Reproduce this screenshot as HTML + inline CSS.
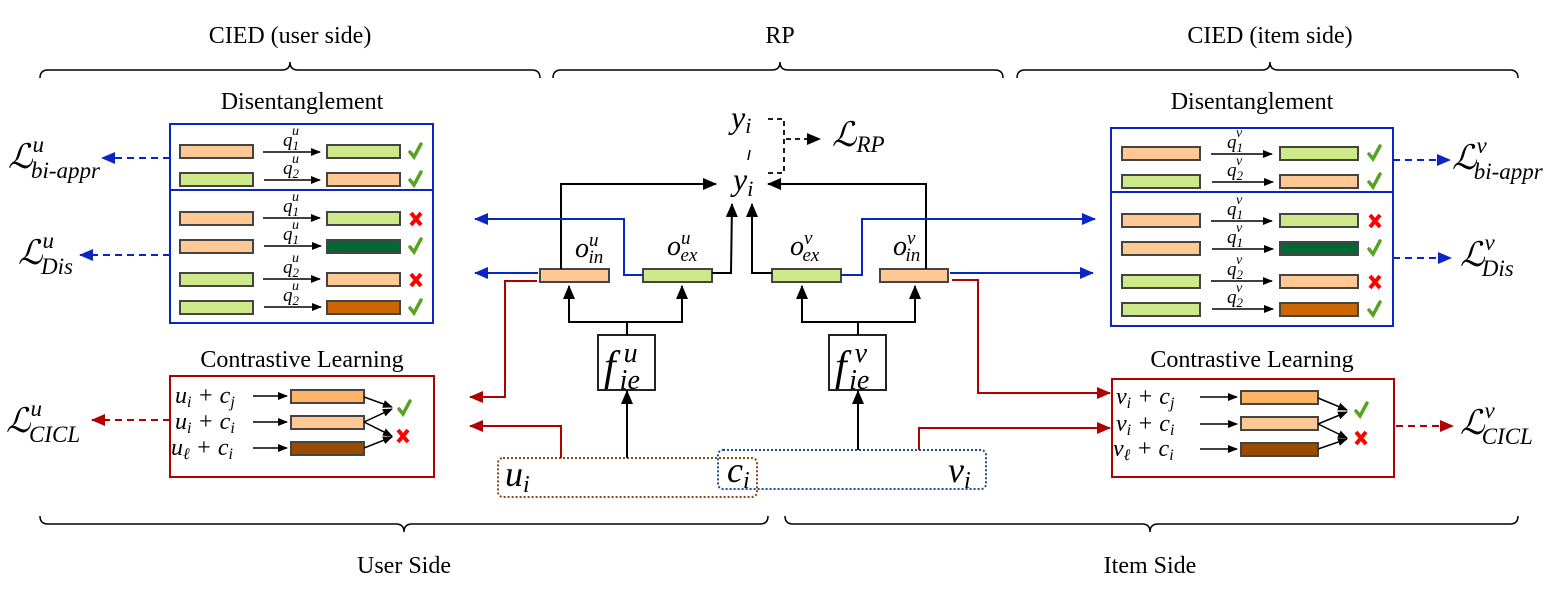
<!DOCTYPE html>
<html><head><meta charset="utf-8"><style>
html,body{margin:0;padding:0;background:#fff}
svg{display:block}
.t{font-family:"Liberation Serif",serif;fill:#000}
.m{font-family:"Liberation Serif",serif;font-style:italic;fill:#000}
</style></head><body>
<svg width="1560" height="591" viewBox="0 0 1560 591" xmlns="http://www.w3.org/2000/svg">
<defs>
<marker id="ak" markerWidth="10" markerHeight="8" refX="9" refY="4" orient="auto" markerUnits="userSpaceOnUse"><path d="M0,0 L10,4 L0,8z" fill="#000"/></marker>
<marker id="ak2" markerWidth="14" markerHeight="12" refX="13" refY="6" orient="auto" markerUnits="userSpaceOnUse"><path d="M0,0 L14,6 L0,12z" fill="#000"/></marker>
<marker id="ab" markerWidth="14" markerHeight="12" refX="13" refY="6" orient="auto" markerUnits="userSpaceOnUse"><path d="M0,0 L14,6 L0,12z" fill="#0b25c4"/></marker>
<marker id="ar" markerWidth="14" markerHeight="12" refX="13" refY="6" orient="auto" markerUnits="userSpaceOnUse"><path d="M0,0 L14,6 L0,12z" fill="#b00000"/></marker>
<g id="ck"><path d="M-5,1 L-1,6 L6,-7" fill="none" stroke="#5aa322" stroke-width="3.5" stroke-linecap="round"/></g>
<g id="xx"><path d="M-5,-6 L5,6 M5,-6 L-5,6" fill="none" stroke="#f00" stroke-width="4"/></g>
</defs>
<g fill="none" stroke="#000" stroke-width="1.5">
<path d="M40,78 Q40,70 48,70 L282,70 Q290,70 290,62 Q290,70 298,70 L532,70 Q540,70 540,78"/>
<path d="M553,78 Q553,70 561,70 L772,70 Q780,70 780,62 Q780,70 788,70 L995,70 Q1003,70 1003,78"/>
<path d="M1017,78 Q1017,70 1025,70 L1262,70 Q1270,70 1270,62 Q1270,70 1278,70 L1510,70 Q1518,70 1518,78"/>
<path d="M40,516 Q40,524 48,524 L396,524 Q404,524 404,532 Q404,524 412,524 L760,524 Q768,524 768,516"/>
<path d="M785,516 Q785,524 793,524 L1142,524 Q1150,524 1150,532 Q1150,524 1158,524 L1510,524 Q1518,524 1518,516"/>
</g>
<g class="t" font-size="24" text-anchor="middle">
<text x="290" y="43">CIED (user side)</text>
<text x="780" y="43">RP</text>
<text x="1270" y="43">CIED (item side)</text>
<text x="404" y="573">User Side</text>
<text x="1150" y="573">Item Side</text>
<text x="302" y="109">Disentanglement</text>
<text x="302" y="367">Contrastive Learning</text>
<text x="1252" y="109">Disentanglement</text>
<text x="1252" y="367">Contrastive Learning</text>
</g>

<rect x="170" y="124" width="263" height="199" fill="none" stroke="#0b25c4" stroke-width="2"/>
<line x1="170" y1="190" x2="433" y2="190" stroke="#0b25c4" stroke-width="2"/>
<g stroke="#444" stroke-width="2">
<rect x="180" y="145" width="73" height="13" fill="#ffc895"/><rect x="327" y="145" width="73" height="13" fill="#cde98a"/>
<rect x="180" y="173" width="73" height="13" fill="#cde98a"/><rect x="327" y="173" width="73" height="13" fill="#ffc895"/>
<rect x="180" y="212" width="73" height="13" fill="#ffc895"/><rect x="327" y="212" width="73" height="13" fill="#cde98a"/>
<rect x="180" y="240" width="73" height="13" fill="#ffc895"/><rect x="327" y="240" width="73" height="13" fill="#036635"/>
<rect x="180" y="273" width="73" height="13" fill="#cde98a"/><rect x="327" y="273" width="73" height="13" fill="#ffc895"/>
<rect x="180" y="301" width="73" height="13" fill="#cde98a"/><rect x="327" y="301" width="73" height="13" fill="#cc6600"/>
</g>
<g stroke="#000" stroke-width="1.5" marker-end="url(#ak)">
<line x1="263" y1="152" x2="320" y2="152"/><line x1="264" y1="180" x2="320" y2="180"/>
<line x1="263" y1="218" x2="320" y2="218"/><line x1="264" y1="246" x2="321" y2="246"/>
<line x1="263" y1="279" x2="320" y2="279"/><line x1="264" y1="307" x2="321" y2="307"/>
</g>
<g class="m" font-size="19">
<text x="283" y="146">q<tspan font-size="13" dy="4">1</tspan><tspan font-size="14" dx="-7" dy="-15">u</tspan></text>
<text x="283" y="174">q<tspan font-size="13" dy="4">2</tspan><tspan font-size="14" dx="-7" dy="-15">u</tspan></text>
<text x="283" y="212">q<tspan font-size="13" dy="4">1</tspan><tspan font-size="14" dx="-7" dy="-15">u</tspan></text>
<text x="283" y="240">q<tspan font-size="13" dy="4">1</tspan><tspan font-size="14" dx="-7" dy="-15">u</tspan></text>
<text x="283" y="273">q<tspan font-size="13" dy="4">2</tspan><tspan font-size="14" dx="-7" dy="-15">u</tspan></text>
<text x="283" y="301">q<tspan font-size="13" dy="4">2</tspan><tspan font-size="14" dx="-7" dy="-15">u</tspan></text>
</g>
<use href="#ck" x="415" y="151"/><use href="#ck" x="415" y="179"/>
<use href="#xx" x="416" y="219"/><use href="#ck" x="415" y="246"/>
<use href="#xx" x="416" y="280"/><use href="#ck" x="415" y="307"/>

<rect x="1111" y="128" width="282" height="198" fill="none" stroke="#0b25c4" stroke-width="2"/>
<line x1="1111" y1="192" x2="1393" y2="192" stroke="#0b25c4" stroke-width="2"/>
<g stroke="#444" stroke-width="2">
<rect x="1122" y="147" width="78" height="13" fill="#ffc895"/><rect x="1280" y="147" width="78" height="13" fill="#cde98a"/>
<rect x="1122" y="175" width="78" height="13" fill="#cde98a"/><rect x="1280" y="175" width="78" height="13" fill="#ffc895"/>
<rect x="1122" y="214" width="78" height="13" fill="#ffc895"/><rect x="1280" y="214" width="78" height="13" fill="#cde98a"/>
<rect x="1122" y="242" width="78" height="13" fill="#ffc895"/><rect x="1280" y="242" width="78" height="13" fill="#036635"/>
<rect x="1122" y="275" width="78" height="13" fill="#cde98a"/><rect x="1280" y="275" width="78" height="13" fill="#ffc895"/>
<rect x="1122" y="303" width="78" height="13" fill="#cde98a"/><rect x="1280" y="303" width="78" height="13" fill="#cc6600"/>
</g>
<g stroke="#000" stroke-width="1.5" marker-end="url(#ak)">
<line x1="1211" y1="154" x2="1272" y2="154"/><line x1="1212" y1="182" x2="1273" y2="182"/>
<line x1="1211" y1="221" x2="1272" y2="221"/><line x1="1212" y1="249" x2="1273" y2="249"/>
<line x1="1211" y1="281" x2="1272" y2="281"/><line x1="1212" y1="309" x2="1273" y2="309"/>
</g>
<g class="m" font-size="19">
<text x="1227" y="148">q<tspan font-size="13" dy="4">1</tspan><tspan font-size="14" dx="-7" dy="-15">v</tspan></text>
<text x="1227" y="176">q<tspan font-size="13" dy="4">2</tspan><tspan font-size="14" dx="-7" dy="-15">v</tspan></text>
<text x="1227" y="215">q<tspan font-size="13" dy="4">1</tspan><tspan font-size="14" dx="-7" dy="-15">v</tspan></text>
<text x="1227" y="243">q<tspan font-size="13" dy="4">1</tspan><tspan font-size="14" dx="-7" dy="-15">v</tspan></text>
<text x="1227" y="275">q<tspan font-size="13" dy="4">2</tspan><tspan font-size="14" dx="-7" dy="-15">v</tspan></text>
<text x="1227" y="303">q<tspan font-size="13" dy="4">2</tspan><tspan font-size="14" dx="-7" dy="-15">v</tspan></text>
</g>
<use href="#ck" x="1374" y="153"/><use href="#ck" x="1374" y="181"/>
<use href="#xx" x="1375" y="221"/><use href="#ck" x="1374" y="248"/>
<use href="#xx" x="1375" y="282"/><use href="#ck" x="1374" y="309"/>

<rect x="170" y="376" width="264" height="101" fill="none" stroke="#b00000" stroke-width="2"/>
<g stroke="#444" stroke-width="2">
<rect x="291" y="390" width="73" height="13" fill="#ffb366"/>
<rect x="291" y="416" width="73" height="13" fill="#ffc895"/>
<rect x="291" y="442" width="73" height="13" fill="#994c00"/>
</g>
<g stroke="#000" stroke-width="1.5" marker-end="url(#ak)">
<line x1="253" y1="396" x2="287" y2="396"/><line x1="253" y1="422" x2="287" y2="422"/><line x1="253" y1="448" x2="287" y2="448"/>
<line x1="364" y1="397" x2="392" y2="407"/><line x1="364" y1="422" x2="392" y2="409"/>
<line x1="364" y1="422" x2="392" y2="436"/><line x1="364" y1="448" x2="392" y2="437"/>
</g>
<g class="m" font-size="24">
<text x="175" y="403">u<tspan font-size="16" dy="4">i</tspan><tspan dy="-4"> + c</tspan><tspan font-size="16" dy="4">j</tspan></text>
<text x="175" y="429">u<tspan font-size="16" dy="4">i</tspan><tspan dy="-4"> + c</tspan><tspan font-size="16" dy="4">i</tspan></text>
<text x="171" y="455">u<tspan font-size="16" dy="4">ℓ</tspan><tspan dy="-4"> + c</tspan><tspan font-size="16" dy="4">i</tspan></text>
</g>
<use href="#ck" x="404" y="408"/><use href="#xx" x="403" y="436"/>

<rect x="1112" y="379" width="282" height="98" fill="none" stroke="#b00000" stroke-width="2"/>
<g stroke="#444" stroke-width="2">
<rect x="1241" y="391" width="77" height="13" fill="#ffb366"/>
<rect x="1241" y="417" width="77" height="13" fill="#ffc895"/>
<rect x="1241" y="443" width="77" height="13" fill="#994c00"/>
</g>
<g stroke="#000" stroke-width="1.5" marker-end="url(#ak)">
<line x1="1200" y1="397" x2="1237" y2="397"/><line x1="1200" y1="424" x2="1237" y2="424"/><line x1="1200" y1="449" x2="1237" y2="449"/>
<line x1="1318" y1="398" x2="1347" y2="410"/><line x1="1318" y1="424" x2="1347" y2="412"/>
<line x1="1318" y1="424" x2="1347" y2="438"/><line x1="1318" y1="449" x2="1347" y2="439"/>
</g>
<g class="m" font-size="24">
<text x="1116" y="404">v<tspan font-size="16" dy="4">i</tspan><tspan dy="-4"> + c</tspan><tspan font-size="16" dy="4">j</tspan></text>
<text x="1116" y="431">v<tspan font-size="16" dy="4">i</tspan><tspan dy="-4"> + c</tspan><tspan font-size="16" dy="4">i</tspan></text>
<text x="1113" y="456">v<tspan font-size="16" dy="4">ℓ</tspan><tspan dy="-4"> + c</tspan><tspan font-size="16" dy="4">i</tspan></text>
</g>
<use href="#ck" x="1361" y="410"/><use href="#xx" x="1361" y="438"/>

<g stroke-width="2" stroke-dasharray="7,5" fill="none">
<line x1="170" y1="158" x2="102" y2="158" stroke="#0b25c4" marker-end="url(#ab)"/>
<line x1="170" y1="255" x2="80" y2="255" stroke="#0b25c4" marker-end="url(#ab)"/>
<line x1="170" y1="420" x2="92" y2="420" stroke="#b00000" marker-end="url(#ar)"/>
<line x1="1393" y1="160" x2="1450" y2="160" stroke="#0b25c4" marker-end="url(#ab)"/>
<line x1="1393" y1="258" x2="1451" y2="258" stroke="#0b25c4" marker-end="url(#ab)"/>
<line x1="1396" y1="426" x2="1453" y2="426" stroke="#b00000" marker-end="url(#ar)"/>
</g>
<g class="m" font-size="34">
<text x="8" y="168">ℒ<tspan font-size="23" dy="-16">u</tspan><tspan font-size="23" dx="-13" dy="26">bi-appr</tspan></text>
<text x="18" y="264">ℒ<tspan font-size="23" dy="-16">u</tspan><tspan font-size="23" dx="-13" dy="26">Dis</tspan></text>
<text x="6" y="432">ℒ<tspan font-size="23" dy="-16">u</tspan><tspan font-size="23" dx="-13" dy="26">CICL</tspan></text>
<text x="1452" y="169">ℒ<tspan font-size="23" dy="-16">v</tspan><tspan font-size="23" dx="-13" dy="26">bi-appr</tspan></text>
<text x="1460" y="266">ℒ<tspan font-size="23" dy="-16">v</tspan><tspan font-size="23" dx="-13" dy="26">Dis</tspan></text>
<text x="1460" y="434">ℒ<tspan font-size="23" dy="-16">v</tspan><tspan font-size="23" dx="-13" dy="26">CICL</tspan></text>
<text x="832" y="146">ℒ<tspan font-size="23" dy="6">RP</tspan></text>
</g>
<g class="m" font-size="32">
<text x="731" y="128">y<tspan font-size="22" dy="5">i</tspan></text>
<text x="733" y="190">y<tspan font-size="22" dy="6">i</tspan></text>
</g>
<line x1="750" y1="150" x2="748" y2="160" stroke="#000" stroke-width="1.5"/>

<g stroke="#000" stroke-width="1.8" stroke-dasharray="5,4" fill="none">
<path d="M768,119 L784,119 L784,173 L768,173"/>
<line x1="786" y1="139" x2="820" y2="139" marker-end="url(#ak2)"/>
</g>

<g stroke="#444" stroke-width="2">
<rect x="540" y="269" width="69" height="13" fill="#ffc895"/>
<rect x="643" y="269" width="69" height="13" fill="#cde98a"/>
<rect x="772" y="269" width="69" height="13" fill="#cde98a"/>
<rect x="880" y="269" width="68" height="13" fill="#ffc895"/>
</g>
<g class="m" font-size="28">
<text x="575" y="257">o<tspan font-size="19" dy="-11">u</tspan><tspan font-size="19" dx="-10" dy="17">in</tspan></text>
<text x="667" y="255">o<tspan font-size="19" dy="-11">u</tspan><tspan font-size="19" dx="-10" dy="17">ex</tspan></text>
<text x="790" y="255">o<tspan font-size="19" dy="-11">v</tspan><tspan font-size="19" dx="-10" dy="17">ex</tspan></text>
<text x="893" y="255">o<tspan font-size="19" dy="-11">v</tspan><tspan font-size="19" dx="-10" dy="17">in</tspan></text>
</g>
<rect x="598" y="335" width="57" height="55" fill="#fff" stroke="#222" stroke-width="2"/>
<rect x="829" y="335" width="57" height="55" fill="#fff" stroke="#222" stroke-width="2"/>
<g class="m" font-size="42">
<text x="604" y="380">f<tspan font-size="28" dx="8" dy="-18">u</tspan><tspan font-size="28" dx="-18" dy="27">ie</tspan></text>
<text x="835" y="380">f<tspan font-size="28" dx="8" dy="-18">v</tspan><tspan font-size="28" dx="-18" dy="27">ie</tspan></text>
</g>
<rect x="498" y="458" width="259" height="39" rx="5" fill="none" stroke="#8b4a10" stroke-width="2" stroke-dasharray="2,2"/>
<rect x="718" y="450" width="268" height="39" rx="5" fill="none" stroke="#1f4e8a" stroke-width="2" stroke-dasharray="2,2"/>
<g class="m" font-size="36">
<text x="505" y="486">u<tspan font-size="24" dy="6">i</tspan></text>
<text x="727" y="482">c<tspan font-size="24" dy="6">i</tspan></text>
<text x="948" y="482">v<tspan font-size="24" dy="6">i</tspan></text>
</g>

<g stroke="#000" stroke-width="2" fill="none">
<path d="M561,269 L561,184 L716,184" marker-end="url(#ak2)"/>
<path d="M926,269 L926,184 L768,184" marker-end="url(#ak2)"/>
<path d="M712,273 L731,273 L732,204" marker-end="url(#ak2)"/>
<path d="M772,273 L752,273 L752,204" marker-end="url(#ak2)"/>
<path d="M627,335 L627,322 L569,322 L569,286" marker-end="url(#ak2)"/>
<path d="M627,322 L682,322 L682,286" marker-end="url(#ak2)"/>
<path d="M858,335 L858,322 L802,322 L802,286" marker-end="url(#ak2)"/>
<path d="M858,322 L915,322 L915,286" marker-end="url(#ak2)"/>
<line x1="627" y1="458" x2="627" y2="391" marker-end="url(#ak2)"/>
<line x1="858" y1="450" x2="858" y2="391" marker-end="url(#ak2)"/>
</g>
<g stroke="#0b25c4" stroke-width="2" fill="none">
<path d="M643,275 L624,275 L624,219 L475,219" marker-end="url(#ab)"/>
<path d="M538,273 L475,273" marker-end="url(#ab)"/>
<path d="M841,275 L862,275 L862,219 L1095,219" marker-end="url(#ab)"/>
<path d="M950,273 L1093,273" marker-end="url(#ab)"/>
</g>
<g stroke="#b00000" stroke-width="2" fill="none">
<path d="M537,281 L505,281 L505,397 L470,397" marker-end="url(#ar)"/>
<path d="M561,458 L561,426 L470,426" marker-end="url(#ar)"/>
<path d="M952,280 L978,280 L978,393 L1110,393" marker-end="url(#ar)"/>
<path d="M919,450 L919,428 L1110,428" marker-end="url(#ar)"/>
</g>
</svg>
</body></html>
